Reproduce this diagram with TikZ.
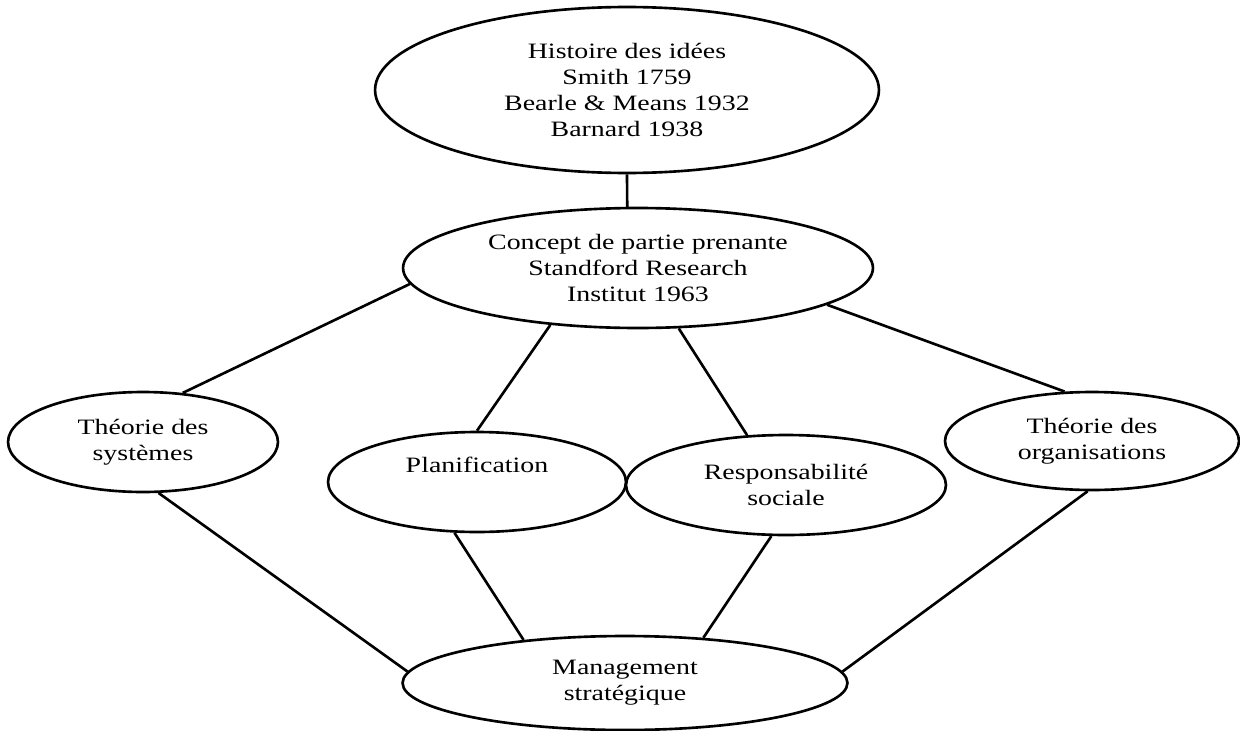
\documentclass[tikz,border=0pt]{standalone}
\usepackage{fontspec}
\setmainfont{Liberation Serif}[FakeStretch=1.27]
\usepackage{tikz}
\usetikzlibrary{positioning,shapes.geometric}
\tikzset{
  bulle/.style={ellipse,draw,line width=1.5pt,inner sep=0pt,align=center,
    font=\fontsize{12.5}{14.8}\selectfont},
  lien/.style={line width=1.5pt},
}

\begin{document}
\begin{tikzpicture}[x=0.02cm,y=-0.02cm]
  \useasboundingbox (0,0) rectangle (1240,730);
  % ---- ellipses ----
  \node[bulle,minimum width=10.08cm,minimum height=3.32cm] (hist) at (627,90)
    {Histoire des idées\\ Smith 1759\\ Bearle \& Means 1932\\ Barnard 1938};
  \node[bulle,minimum width=9.4cm,minimum height=2.4cm] (concept) at (638,268)
    {Concept de partie prenante\\ Standford Research\\ Institut 1963};
  \node[bulle,minimum width=5.4cm,minimum height=2cm] (sys) at (143,442)
    {Théorie des\\ systèmes};
  \node[bulle,minimum width=5.96cm,minimum height=2cm] (plan) at (477,482)
    {Planification\\ \strut};
  \node[bulle,minimum width=6.4cm,minimum height=2cm] (resp) at (786,485)
    {Responsabilité\\ sociale};
  \node[bulle,minimum width=5.88cm,minimum height=1.96cm] (org) at (1092,441)
    {Théorie des\\ organisations};
  \node[bulle,minimum width=8.9cm,minimum height=1.88cm] (mgmt) at (625,683)
    {Management\\ stratégique};
  % ---- liens ----
  \draw[lien] (hist.south) -- (concept.100);
  \draw[lien] (sys.51) -- (concept.184);
  \draw[lien] (concept.213) -- (plan.90);
  \draw[lien] (concept.304) -- (resp.128);
  \draw[lien] (concept.349) -- (org.119);
  \draw[lien] (sys.287) -- (mgmt.177);
  \draw[lien] (plan.246) -- (mgmt.157);
  \draw[lien] (resp.254) -- (mgmt.30);
  \draw[lien] (org.265) -- (mgmt.3);
\end{tikzpicture}
\end{document}
